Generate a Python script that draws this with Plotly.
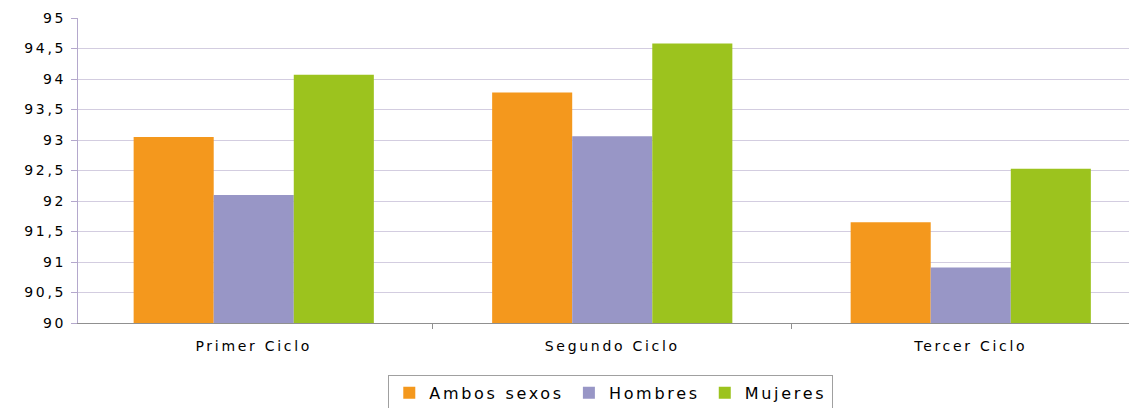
import plotly.graph_objects as go

# Data
ciclos = ["Primer Ciclo", "Segundo Ciclo", "Tercer Ciclo"]
ambos_sexos = [93.05, 93.78, 91.65]
hombres = [92.10, 93.06, 90.91]
mujeres = [94.07, 94.58, 92.53]

series = [
    ("Ambos sexos", ambos_sexos, "#F4981D"),
    ("Hombres", hombres, "#9896C6"),
    ("Mujeres", mujeres, "#9CC31E"),
]

fig = go.Figure()
for name, values, color in series:
    fig.add_trace(go.Bar(x=ciclos, y=values, name=name, marker=dict(color=color, line=dict(width=0))))

fig.update_layout(
    width=1129,
    height=408,
    barmode="group",
    bargap=0.33,
    bargroupgap=0,
    separators=",.",
    plot_bgcolor="white",
    paper_bgcolor="white",
    font=dict(family="DejaVu Sans, Arial, sans-serif", size=14, color="black"),
    margin=dict(l=78, r=0, t=18, b=85),
    legend=dict(
        orientation="h",
        xanchor="center",
        x=0.541,
        xref="container",
        yanchor="top",
        y=0.081,
        yref="container",
        bordercolor="#a0a0a0",
        borderwidth=1,
        font=dict(size=16),
        itemwidth=30,
    ),
    showlegend=True,
)

fig.update_yaxes(
    range=[90, 95],
    dtick=0.5,
    showgrid=True,
    gridcolor="#d3cde0",
    gridwidth=1,
    showline=True,
    linecolor="#b4a8cc",
    ticks="outside",
    ticklen=6,
    tickcolor="#b4a8cc",
    zeroline=False,
    ticklabelstandoff=2,
)
fig.update_xaxes(
    range=[-0.4902, 2.4414],
    showline=True,
    linecolor="#909090",
    ticks="outside",
    tickson="boundaries",
    ticklen=5,
    tickcolor="#909090",
    ticklabelstandoff=10,
)

# wide letter spacing like the original, no page margin; the tiny font change
# makes the legend measure its text again with the spacing applied
post = """
var gd = document.getElementById('{plot_id}');
document.body.style.margin = '0';
var st = document.createElement('style');
st.textContent = 'text { letter-spacing: 2.7px; }';
document.head.appendChild(st);
Plotly.relayout(gd, {'legend.font.size': 16.01});
"""

fig.write_html("out.html", post_script=post, config={"displayModeBar": False})
